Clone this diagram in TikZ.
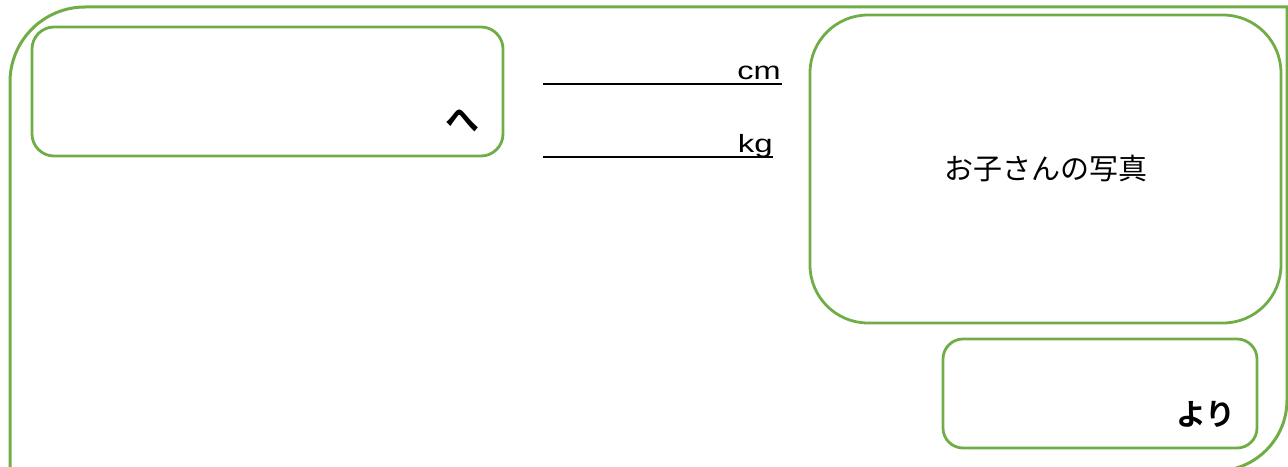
\documentclass[tikz,border=0pt]{standalone}
\usepackage{fontspec}
\setmainfont{Liberation Sans}
\newfontfamily\cjk{Noto Sans CJK JP}
\newfontfamily\cjkbold{Noto Sans CJK JP}[UprightFont=* Bold]
\definecolor{frameg}{HTML}{70AD47}
\tikzset{
  outerframe/.style={draw=frameg, line width=3pt},
  greenbox/.style={draw=frameg, line width=2.8pt, rectangle, inner sep=0pt},
  unitlabel/.style={font=\fontsize{25}{25}\selectfont, inner sep=0pt, anchor=base east},
  rule/.style={draw=black, line width=1.3pt},
}
\begin{document}
\begin{tikzpicture}[x=1pt,y=1pt]
\useasboundingbox (0,0) rectangle (1288,466);
\begin{scope}
\clip (0,0) rectangle (1288,466);
% outer frame
\draw[outerframe] (10,-30) -- (10,384) arc[start angle=180,end angle=90,radius=75]
  -- (1287,459) -- (1287,66) arc[start angle=0,end angle=-90,radius=71] -- (10,-5);
\end{scope}
% boxes
\node[greenbox, rounded corners=22, minimum width=471, minimum height=129] (tobox) at (267.5,374.5) {};
\node[greenbox, rounded corners=58, minimum width=471, minimum height=308] (photo) at (1045.5,297) {};
\node[greenbox, rounded corners=20, minimum width=314, minimum height=109] (frombox) at (1100,72.5) {};
% texts
\node[inner sep=0pt, font=\cjkbold\fontsize{34}{34}\selectfont] (he) at (462,345) {へ};
\node[inner sep=0pt, font=\cjk\fontsize{29}{29}\selectfont] (phototext) at (1046,297) {お子さんの写真};
\node[inner sep=0pt, font=\cjkbold\fontsize{30}{30}\selectfont] (yori) at (1206,52) {より};
% height / weight lines
\node[unitlabel] (cm) at (781,386) {\scalebox{1.3}[1]{cm}};
\node[unitlabel] (kg) at (773,313) {\scalebox{1.32}[1]{kg}};
\coordinate (cmstart) at (543,382);
\coordinate (cmend) at (782,382);
\coordinate (kgstart) at (543,309);
\coordinate (kgend) at (773,309);
\draw[rule] (cmstart) -- (cmend);
\draw[rule] (kgstart) -- (kgend);
\end{tikzpicture}
\end{document}
